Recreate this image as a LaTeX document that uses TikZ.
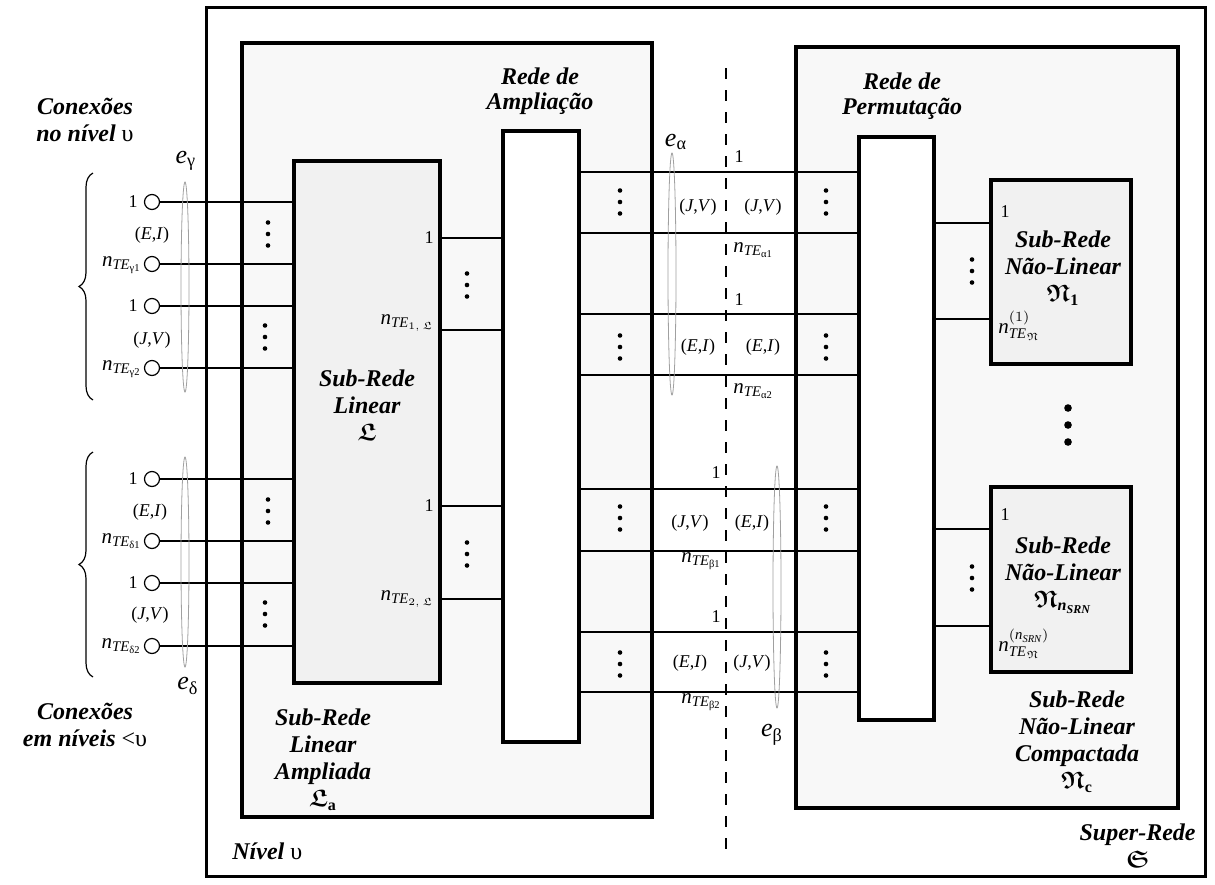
\documentclass[tikz,border=0pt]{standalone}
\usepackage{amsmath,amssymb}
\usepackage{fontspec}
\setmainfont{Liberation Serif}
\usepackage{tikz}
\usetikzlibrary{fit,decorations.pathreplacing}
\definecolor{panel}{HTML}{F8F8F8}
\definecolor{core}{HTML}{F1F1F1}
\definecolor{ring}{HTML}{A0A0A0}

\begin{document}
\begin{tikzpicture}[x=0.5pt,y=-0.5pt,every node/.style={font=\fontsize{9}{10}\selectfont,inner sep=0pt},nlab/.style={font=\fontsize{10.5}{12}\selectfont},title/.style={font=\fontsize{12}{13.5}\selectfont\bfseries\itshape,align=center},frame/.style={draw,line width=1.9pt,inner sep=0pt},wire/.style={line width=0.6pt},port/.style={circle,draw,line width=0.6pt,fill=white,minimum size=7.5pt},lens/.style={draw=ring,line width=0.4pt},elab/.style={font=\fontsize{13}{14}\selectfont},dotcol/.pic={\foreach \d in {-11.5,0,11.5} \fill (0,\d) circle[radius=1.15pt];},bigdots/.pic={\foreach \d in {-17,0,17} \fill (0,\d) circle[radius=1.9pt];}]
\useasboundingbox (0,0) rectangle (1215,884);
% blocks
\node[frame,line width=1.5pt,fit={(206,7) (1205,876)}] (super) {};
\node[frame,fill=panel,fit={(242,43) (652,817)}] (ampl) {};
\node[frame,fill=panel,fit={(796,47) (1178,808)}] (comp) {};
\node[frame,fill=core,fit={(294,161) (440,683)}] (lin) {};
\node[frame,fill=white,fit={(503,131) (579,742)}] (amp) {};
\node[frame,fill=white,fit={(859,137) (934,720)}] (perm) {};
\node[frame,fill=core,fit={(991,180) (1131,364)}] (nl1) {};
\node[frame,fill=core,fit={(991,487) (1131,672)}] (nl2) {};
% cut between the two halves
\coordinate (cuttop) at (726,68);\coordinate (cutbot) at (726,858);
\draw[wire,dash pattern=on 5.5pt off 5.5pt] (cuttop) -- (cutbot);
% terminals on the left
\foreach \n/\y in {g1/202,g2/264,g3/306,g4/368,d1/479,d2/541,d3/583,d4/646}{
\node[port] (\n) at (152,\y) {};
\draw[wire] (\n.east) -- (\n.east -| lin.west);}
\node[anchor=east] (tg1) at (138,202) {1};
\node[nlab,anchor=base east] (tg2) at (142,266) {$\mathit{n}_{\mathit{TE}_{\text{γ1}}}$};
\node[anchor=east] (tg3) at (138,306) {1};
\node[nlab,anchor=base east] (tg4) at (142,370) {$\mathit{n}_{\mathit{TE}_{\text{γ2}}}$};
\node[anchor=east] (td1) at (138,479) {1};
\node[nlab,anchor=base east] (td2) at (142,543) {$\mathit{n}_{\mathit{TE}_{\text{δ1}}}$};
\node[anchor=east] (td3) at (138,583) {1};
\node[nlab,anchor=base east] (td4) at (142,648) {$\mathit{n}_{\mathit{TE}_{\text{δ2}}}$};
\node (pg1) at (152,235) {(\textit{E},\textit{I})};
\node (pg2) at (152,340) {(\textit{J},\textit{V})};
\node (pd1) at (150,512) {(\textit{E},\textit{I})};
\node (pd2) at (150,615) {(\textit{J},\textit{V})};
\pic at (268,234) {dotcol};\pic at (265,337) {dotcol};\pic at (268,511) {dotcol};\pic at (265,614) {dotcol};
\draw[decorate,decoration={brace,amplitude=7pt},line width=0.6pt] (93,400) -- (93,173);
\draw[decorate,decoration={brace,amplitude=7pt},line width=0.6pt] (93,677) -- (93,452);
\draw[lens] (185,287) ellipse [x radius=2pt,y radius=52.5pt];
\draw[lens] (185,562) ellipse [x radius=2pt,y radius=52.5pt];
\node[elab] (eg) at (186,161) {$\mathit{e}_{\text{γ}}$};
\node[elab] (ed) at (188,686) {$\mathit{e}_{\text{δ}}$};
\node[title] (cxa) at (85,120) {Conexões\\no nível {\normalfont υ}};
\node[title] (cxb) at (85,725) {Conexões\\em níveis {\normalfont <υ}};
% linear part to amplification
\foreach \y in {238,330,506,599} \draw[wire] (lin.east |- 0,\y) -- (amp.west |- 0,\y);
\node[anchor=east] (tl1) at (434,238) {1};
\node[nlab,anchor=base east] (tl2) at (435,324) {$\mathit{n}_{\mathit{TE}_{1,\,\mathfrak{L}}}$};
\node[anchor=east] (tl3) at (434,506) {1};
\node[nlab,anchor=base east] (tl4) at (435,600) {$\mathit{n}_{\mathit{TE}_{2,\,\mathfrak{L}}}$};
\pic at (467,285) {dotcol};\pic at (467,554) {dotcol};
% amplification to permutation
\foreach \y in {172,233,314,375,489,551,632,692} \draw[wire] (amp.east |- 0,\y) -- (perm.west |- 0,\y);
\foreach \y in {202,347,518,664}{\pic at (620,\y) {dotcol};\pic at (826,\y) {dotcol};}
\node (pa1) at (698,207) {(\textit{J},\textit{V})};
\node (pa2) at (763,207) {(\textit{J},\textit{V})};
\node (pa3) at (698,347) {(\textit{E},\textit{I})};
\node (pa4) at (763,347) {(\textit{E},\textit{I})};
\node (pb1) at (690,523) {(\textit{J},\textit{V})};
\node (pb2) at (752,523) {(\textit{E},\textit{I})};
\node (pb3) at (690,663) {(\textit{E},\textit{I})};
\node (pb4) at (752,663) {(\textit{J},\textit{V})};
\node (ta1) at (739,157) {1};
\node[nlab,anchor=base west] (ta2) at (733,252) {$\mathit{n}_{\mathit{TE}_{\text{α1}}}$};
\node (ta3) at (739,300) {1};
\node[nlab,anchor=base west] (ta4) at (733,393) {$\mathit{n}_{\mathit{TE}_{\text{α2}}}$};
\node (tb1) at (716,473) {1};
\node[nlab,anchor=base east] (tb2) at (722,562) {$\mathit{n}_{\mathit{TE}_{\text{β1}}}$};
\node (tb3) at (716,617) {1};
\node[nlab,anchor=base east] (tb4) at (722,703) {$\mathit{n}_{\mathit{TE}_{\text{β2}}}$};
\draw[lens] (672,274) ellipse [x radius=2pt,y radius=60.5pt];
\draw[lens] (777,587) ellipse [x radius=2pt,y radius=60.5pt];
\node[elab] (ea) at (676,142) {$\mathit{e}_{\text{α}}$};
\node[elab] (eb) at (772,735) {$\mathit{e}_{\text{β}}$};
% permutation to the non-linear parts
\foreach \y in {223,319} \draw[wire] (perm.east |- 0,\y) -- (nl1.west |- 0,\y);
\foreach \y in {529,626} \draw[wire] (perm.east |- 0,\y) -- (nl2.west |- 0,\y);
\pic at (972,271) {dotcol};\pic at (972,578) {dotcol};
\node (tn1) at (1005,212) {1};
\node[nlab,anchor=base west] (tn2) at (998,333) {$\mathit{n}^{(1)}_{\mathit{TE}_{\mathfrak{N}}}$};
\node (tn3) at (1005,515) {1};
\node[nlab,anchor=base west] (tn4) at (998,651) {$\mathit{n}^{(\mathit{n}_{\mathit{SRN}})}_{\mathit{TE}_{\mathfrak{N}}}$};
\pic at (1068,425) {bigdots};
% titles
\node[title] (tlin) at (367,405) {Sub-Rede\\Linear\\$\boldsymbol{\mathfrak{L}}$};
\node[title,font=\fontsize{12}{12.5}\selectfont\bfseries\itshape] (tamp) at (540,91) {Rede de\\Ampliação};
\node[title,font=\fontsize{12}{12.5}\selectfont\bfseries\itshape] (tperm) at (902,96) {Rede de\\Permutação};
\node[title] (tampl) at (323,760) {Sub-Rede\\Linear\\Ampliada\\$\boldsymbol{\mathfrak{L}}_{\mathbf{a}}$};
\node[title,anchor=west] (tniv) at (232,851) {Nível {\normalfont υ}};
\node[title] (tcomp) at (1077,742) {Sub-Rede\\Não-Linear\\Compactada\\$\boldsymbol{\mathfrak{N}}_{\mathbf{c}}$};
\node[title,anchor=east] (tsup) at (1196,846) {Super-Rede\\$\boldsymbol{\mathfrak{S}}$};
\node[title] (tnl1) at (1063,268) {Sub-Rede\\Não-Linear\\$\boldsymbol{\mathfrak{N}}_{\mathbf{1}}$};
\node[title] (tnl2) at (1063,575) {Sub-Rede\\Não-Linear\\$\boldsymbol{\mathfrak{N}_{\mathit{n}_{\mathit{SRN}}}}$};
\end{tikzpicture}
\end{document}
